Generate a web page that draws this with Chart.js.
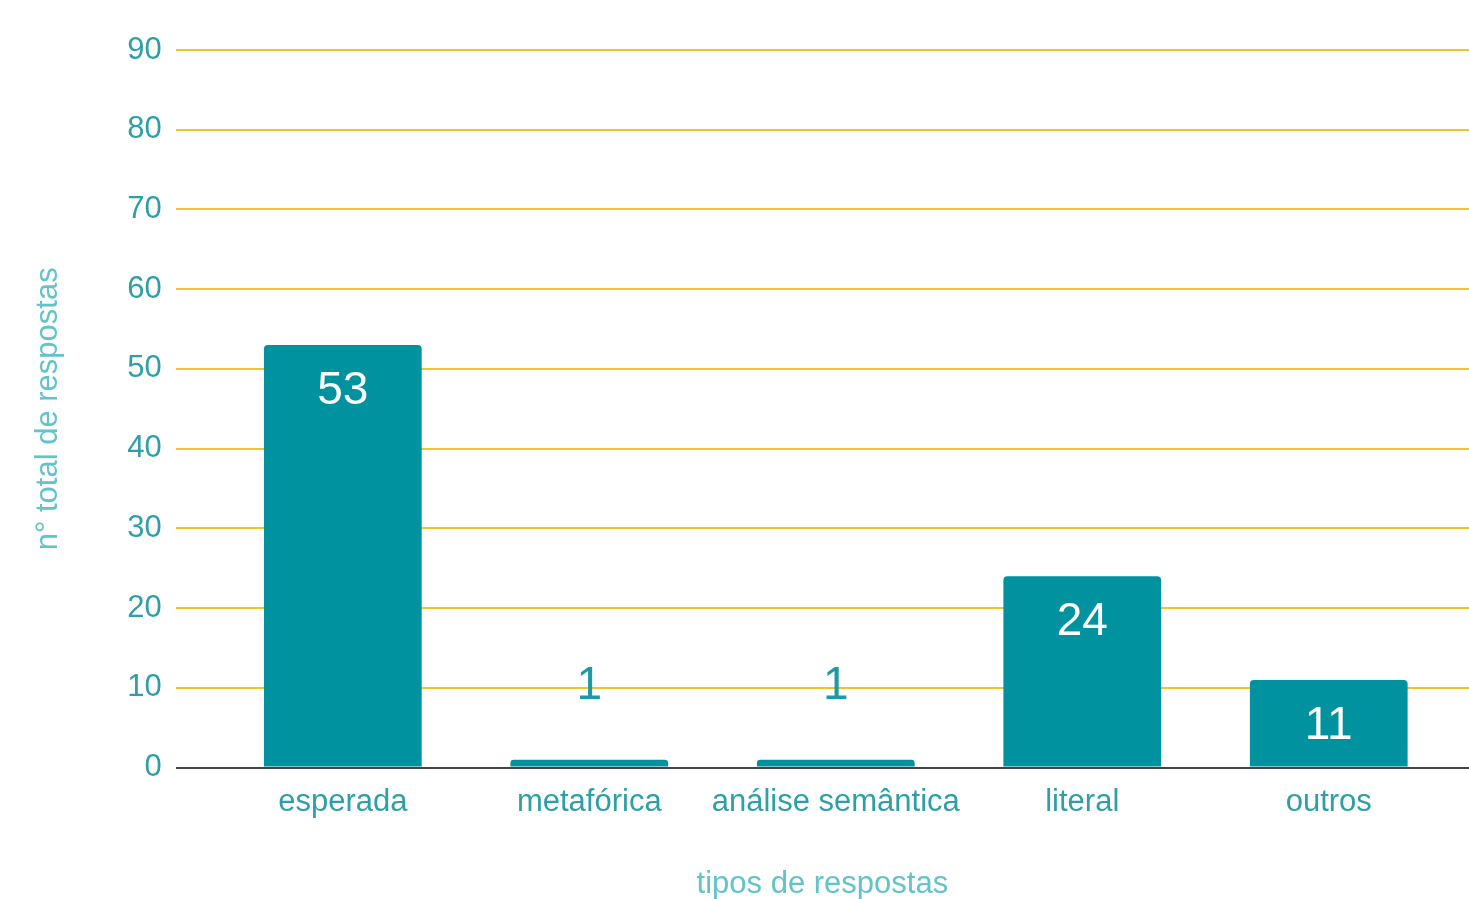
<!DOCTYPE html>
<html>
<head>
<meta charset="utf-8">
<script src="https://cdn.jsdelivr.net/npm/chart.js@4"></script>
<style>
  html, body { margin: 0; padding: 0; background: #fff; }
  #wrap { width: 1469px; height: 899px; }
</style>
</head>
<body>
<div id="wrap"><canvas id="bar-chart"></canvas></div>
<script>
const categories = ["esperada", "metafórica", "análise semântica", "literal", "outros"];
const respostas = [53, 1, 1, 24, 11];
const y_ticks = [0, 10, 20, 30, 40, 50, 60, 70, 80, 90];

const teal = "#00939f";
const tickColor = "#2f9fa7";
const titleColor = "#62c3c8";
const fontFam = "'Liberation Sans', Arial, sans-serif";

// value labels: inside the bar when it is tall, above it otherwise
const valueLabels = {
  id: "valueLabels",
  afterDatasetsDraw(chart) {
    const ctx = chart.ctx;
    const meta = chart.getDatasetMeta(0);
    ctx.save();
    ctx.font = "46px " + fontFam;
    ctx.textAlign = "center";
    ctx.textBaseline = "middle";
    meta.data.forEach((bar, i) => {
      const h = bar.base - bar.y;
      if (h > 60) {
        ctx.fillStyle = "#ffffff";
        ctx.fillText(respostas[i], bar.x, bar.y + 46);
      } else {
        ctx.fillStyle = "#1c9aa6";
        ctx.fillText(respostas[i], bar.x, bar.y - 73);
      }
    });
    ctx.restore();
  }
};

const points = categories.map((c, i) => ({x: i, y: respostas[i]}));

new Chart(document.getElementById("bar-chart"), {
  type: "bar",
  data: {
    datasets: [{
      data: points,
      backgroundColor: teal,
      barPercentage: 0.64,
      categoryPercentage: 1,
      borderRadius: {topLeft: 4, topRight: 4},
      borderSkipped: "bottom"
    }]
  },
  options: {
    responsive: true,
    maintainAspectRatio: false,
    animation: false,
    layout: {
      padding: {top: 50, right: 0, bottom: -4, left: 30}
    },
    plugins: {
      legend: {display: false},
      tooltip: {enabled: false}
    },
    scales: {
      x: {
        type: "linear",
        offset: false,
        min: -0.678,
        max: 4.569,
        afterBuildTicks: scale => {
          scale.ticks = categories.map((c, i) => ({value: i}));
        },
        grid: {display: false},
        border: {display: false},
        ticks: {
          color: tickColor,
          font: {family: fontFam, size: 31},
          padding: 8,
          maxRotation: 0,
          autoSkip: false,
          callback: v => categories[v]
        },
        title: {
          display: true,
          text: "tipos de respostas",
          color: titleColor,
          font: {family: fontFam, size: 31},
          padding: {top: 37, bottom: 0}
        }
      },
      y: {
        min: 0,
        max: 90,
        afterBuildTicks: scale => {
          scale.ticks = y_ticks.map(v => ({value: v}));
        },
        grid: {
          color: ctx => ctx.tick.value === 0 ? "#444444" : "#f1c232",
          lineWidth: 2,
          drawTicks: false
        },
        border: {display: false},
        ticks: {
          color: tickColor,
          font: {family: fontFam, size: 31},
          padding: 14
        },
        title: {
          display: true,
          text: "n° total de respostas",
          color: titleColor,
          font: {family: fontFam, size: 31},
          padding: {top: 0, bottom: 46}
        }
      }
    }
  },
  plugins: [valueLabels]
});
</script>
</body>
</html>
